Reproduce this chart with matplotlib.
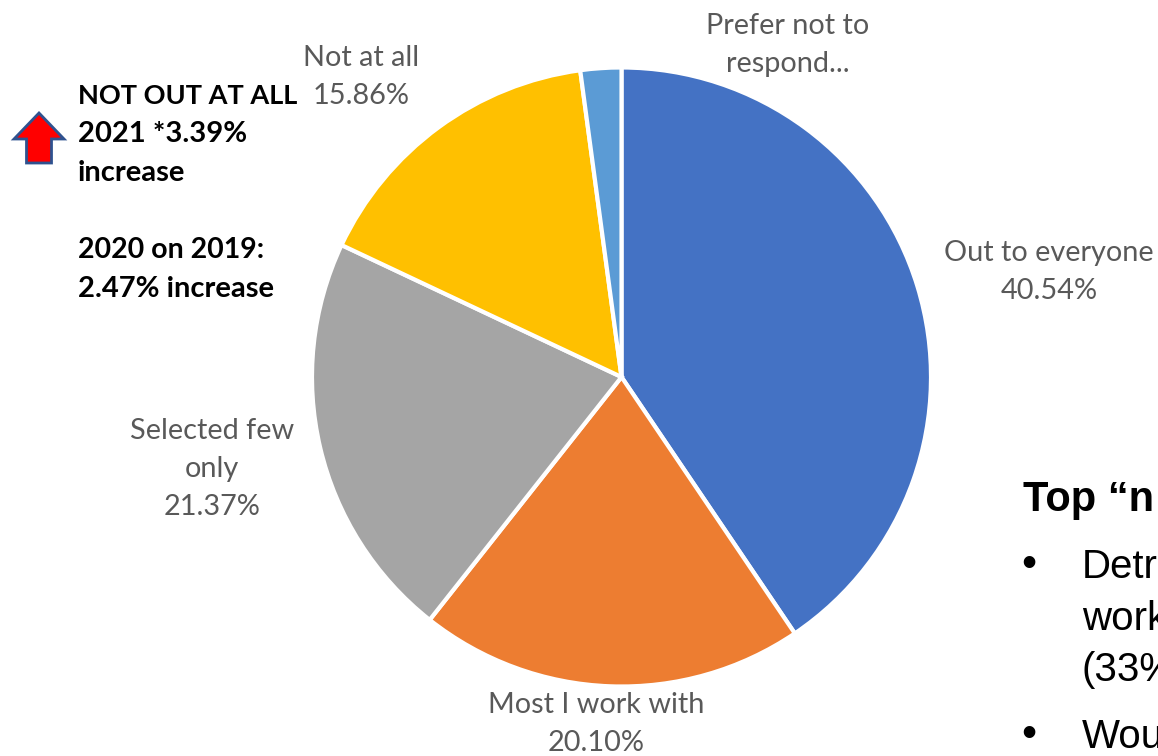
import matplotlib
matplotlib.use("Agg")
import matplotlib.pyplot as plt
from matplotlib.patches import FancyArrow

categories = ["Out to everyone", "Most I work with", "Selected few\nonly", "Not at all", "Prefer not to\nrespond..."]
values = [40.54, 20.10, 21.37, 15.86, 2.13]
colors = ["#4472C4", "#ED7D31", "#A5A5A5", "#FFC000", "#5B9BD5"]
label_pos = [(1049, 272), (596, 724), (212, 469), (361, 77), (788, 45)]
value_text = ["40.54%", "20.10%", "21.37%", "15.86%", ""]

plt.rcParams["font.family"] = ["Lato", "DejaVu Sans"]

W, H = 1158, 756
fig = plt.figure(figsize=(W / 100, H / 100), dpi=100)
ax = fig.add_axes([0, 0, 1, 1])

# y axis is flipped, so the pie runs counter-clockwise from the top
ax.pie(values, colors=colors, startangle=-90, counterclock=True,
       center=(621.5, 377), radius=309.5, frame=True,
       wedgeprops={"edgecolor": "white", "linewidth": 3})
ax.set_xlim(0, W)
ax.set_ylim(H, 0)
ax.set_aspect("equal")
ax.axis("off")

for cat, val, (x, y) in zip(categories, value_text, label_pos):
    txt = cat + ("\n" + val if val else "")
    ax.text(x, y, txt, ha="center", va="center", fontsize=20.8, color="#595959", linespacing=1.58)

bold_lines = [("NOT OUT AT ALL", 96, 19.5), ("2021 *3.39%", 134, 21), ("increase", 173, 21),
              ("2020 on 2019:", 250, 20.5), ("2.47% increase", 289, 21)]
for line, y, size in bold_lines:
    ax.text(78, y, line, ha="left", va="center", fontsize=size, fontweight="bold", color="black")

ax.add_patch(FancyArrow(39, 163, 0, -50, width=25, head_width=50, head_length=26,
                        length_includes_head=True, facecolor="#FF0000", edgecolor="#2F528F", linewidth=2))

side_text = [("Top “n", 1023, 498, 30, "bold"), ("Detr", 1082, 565, 29, "normal"),
             ("work", 1082, 617, 29, "normal"), ("(33%", 1082, 668, 29, "normal"),
             ("Wou", 1082, 735, 29, "normal")]
for t, x, y, size, weight in side_text:
    ax.text(x, y + 2, t, ha="left", va="center", fontsize=size, fontweight=weight, family="Liberation Sans", color="black")

# list bullets
for y in [565, 735]:
    ax.text(1029, y, "•", ha="center", va="center", fontsize=31, family="Liberation Sans", color="black")

fig.savefig("out.png", dpi=100)
